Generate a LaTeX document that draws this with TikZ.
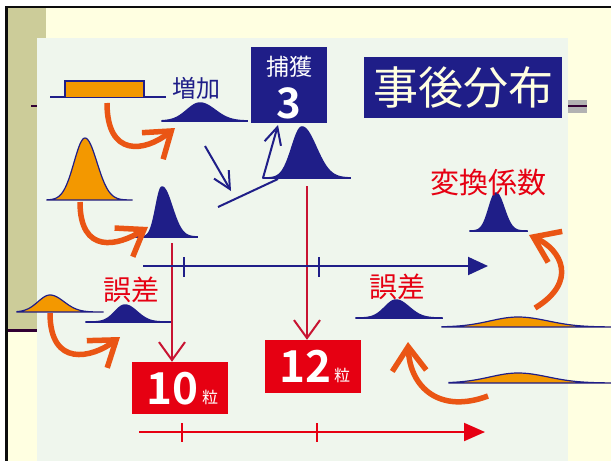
\documentclass[tikz,border=0pt]{standalone}
\usepackage{fontspec}
\newfontfamily\cjk[BoldFont={Noto Sans CJK JP Bold}]{Noto Sans CJK JP}
\usetikzlibrary{arrows.meta}
\definecolor{navy}{RGB}{31,30,136}
\definecolor{orfill}{RGB}{243,152,0}
\definecolor{orarrow}{RGB}{234,85,20}
\definecolor{redbox}{RGB}{230,0,18}
\definecolor{crimson}{RGB}{200,20,50}
\definecolor{panel}{RGB}{239,246,237}
\definecolor{ltyellow}{RGB}{255,255,225}
\definecolor{khaki}{RGB}{204,204,153}
\definecolor{cream}{RGB}{255,255,225}
\definecolor{purp}{RGB}{51,0,51}
\newcommand\bellpath[7]{(#1,#3) -- plot[domain=#1:#4,samples=40] (\x,{#3-#5*exp(-0.5*((\x-#4)/#6)*((\x-#4)/#6))}) -- plot[domain=#4:#2,samples=40] (\x,{#3-#5*exp(-0.5*((\x-#4)/#7)*((\x-#4)/#7))}) -- (#2,#3)}
\tikzset{
  navybell/.style={fill=navy, draw=navy, line width=1.5pt},
  orbell/.style={fill=orfill, draw=navy, line width=1.2pt},
  orarr/.style={draw=orarrow, line width=5.5pt, -{Straight Barb[length=24pt,width=34pt]}},
  navyarr/.style={draw=navy, line width=2pt, -{Straight Barb[length=17pt,width=17pt]}},
  redarr/.style={draw=crimson, line width=2pt, -{Straight Barb[length=18pt,width=26pt]}},
  navyaxis/.style={draw=navy, line width=2pt, -{Triangle[length=20pt,width=18pt]}},
  redaxis/.style={draw=redbox, line width=2pt, -{Triangle[length=21pt,width=18pt]}},
  navytick/.style={draw=navy, line width=2pt},
  redtick/.style={draw=redbox, line width=2pt},
  redlabel/.style={text=redbox, inner sep=0, font=\cjk\fontsize{28}{28}\selectfont},
  redboxst/.style={fill=redbox, inner sep=0},
  bignum/.style={text=white, inner sep=0, font=\cjk\bfseries\fontsize{44}{44}\selectfont},
  grain/.style={text=white, inner sep=0, font=\cjk\fontsize{16}{16}\selectfont}
}
\begin{document}
\begin{tikzpicture}[x=1pt,y=-1pt]
\useasboundingbox (0,0) rectangle (611,461);
% background
\fill[white] (0,0) rectangle (611,461);
\fill[ltyellow] (7,7) rectangle (611,461);
\fill[khaki] (7,7) rectangle (46,329);
\fill[purp] (7,329) rectangle (37,332);
\fill[black!95] (5,5.5) rectangle (611,8.3);
\fill[black!95] (5,5.5) rectangle (7.8,461);
\fill[black!30] (560,100) rectangle (587,113);
\draw[purp, line width=2pt] (31,106) -- (587,106);
\fill[panel] (37,38) rectangle (568,461);

% top-left rectangle
\draw[navy, line width=1.5pt] (50,97) -- (166,97);
\filldraw[fill=orfill, draw=navy, line width=1.2pt] (65,81) rectangle (144,97.5);
% bells
\filldraw[navybell] \bellpath{162}{247}{121}{200}{18}{13}{15} -- cycle;
\filldraw[orbell] \bellpath{47}{132}{200}{85}{62}{11}{12} -- cycle;
\filldraw[navybell] \bellpath{130}{197}{237}{162}{50}{6}{10} -- cycle;
\filldraw[navybell] \bellpath{263}{350}{178}{302}{51}{10}{14} -- cycle;
\filldraw[navybell] \bellpath{86}{171}{322}{125}{17}{10}{12} -- cycle;
\filldraw[navybell] \bellpath{356}{442}{318}{396}{18}{11}{13} -- cycle;
\filldraw[navybell] \bellpath{470}{527}{231}{496}{38}{7}{8} -- cycle;
\filldraw[orbell] \bellpath{17}{103}{312}{50}{17}{12}{14} -- cycle;
\filldraw[orbell] \bellpath{442}{611}{327}{518}{10}{28}{30} -- cycle;
\filldraw[orbell] \bellpath{449}{611}{383}{518}{10}{28}{30} -- cycle;

% text and boxes
\node[text=navy, inner sep=0, font=\cjk\fontsize{24}{24}\selectfont] (zoka) at (196,88) {増加};
\node[fill=navy, minimum width=76pt, minimum height=76pt, inner sep=0] (capbox) at (289,85) {};
\node[text=white, inner sep=0, font=\cjk\fontsize{23}{23}\selectfont] (captxt) at (289,67) {捕獲};
\node[text=white, inner sep=0, font=\cjk\bfseries\fontsize{42}{42}\selectfont] (three) at (289,103) {3};
\node[fill=navy, minimum width=198pt, minimum height=61pt, inner sep=0, text=cream, font=\cjk\fontsize{45}{45}\selectfont] (post) at (463,87.5) {事後分布};
\node[redlabel] (err1) at (131,290) {誤差};
\node[redlabel] (err2) at (397,287) {誤差};
\node[redlabel, font=\cjk\fontsize{29}{29}\selectfont] (henkan) at (488,183) {変換係数};
\node[redboxst, minimum width=96pt, minimum height=52pt] (box10) at (180,388) {};
\node[bignum] (n10) at (172,389) {10};
\node[grain] (g10) at (210,397) {粒};
\node[redboxst, minimum width=96pt, minimum height=53pt] (box12) at (313,366.5) {};
\node[bignum] (n12) at (305,366.5) {12};
\node[grain] (g12) at (342,375) {粒};

% navy arrows around capture
\coordinate (da1) at (205,146);
\coordinate (da2) at (231,191);
\draw[navyarr] (da1) -- (da2);
\draw[navy, line width=2pt] (218,207) -- (278,179);
\coordinate (ua1) at (263,178);
\coordinate (ua2) at (278,125);
\draw[navyarr] (ua1) -- (ua2);
\draw[navy, line width=2pt] (ua1) -- (279,178);

% red vertical arrows
\coordinate (r1s) at (172,243);
\draw[redarr] (r1s) -- (r1s |- box10.north);
\coordinate (r2s) at (307,186);
\draw[redarr] (r2s) -- (r2s |- box12.north);

% axes
\coordinate (a1s) at (143,266);
\coordinate (a1e) at (488,266);
\draw[navyaxis] (a1s) -- (a1e);
\draw[navytick] (184,257) -- (184,277);
\draw[navytick] (319,257) -- (319,277);
\coordinate (a2s) at (139,432);
\coordinate (a2e) at (485,432);
\draw[redaxis] (a2s) -- (a2e);
\draw[redtick] (182,423) -- (182,442);
\draw[redtick] (317,423) -- (317,442);

% orange curved arrows
\draw[orarr] (107,103) .. controls (107,158) and (145,152) .. (175,128);
\draw[orarr] (80,202) .. controls (80,255) and (118,246) .. (148,227);
\draw[orarr] (50,313) .. controls (50,368) and (92,358) .. (120,337);
\draw[orarr] (535,308) .. controls (578,282) and (562,250) .. (529,235);
\draw[orarr] (488,396) .. controls (440,414) and (410,388) .. (408,342);
\end{tikzpicture}
\end{document}
